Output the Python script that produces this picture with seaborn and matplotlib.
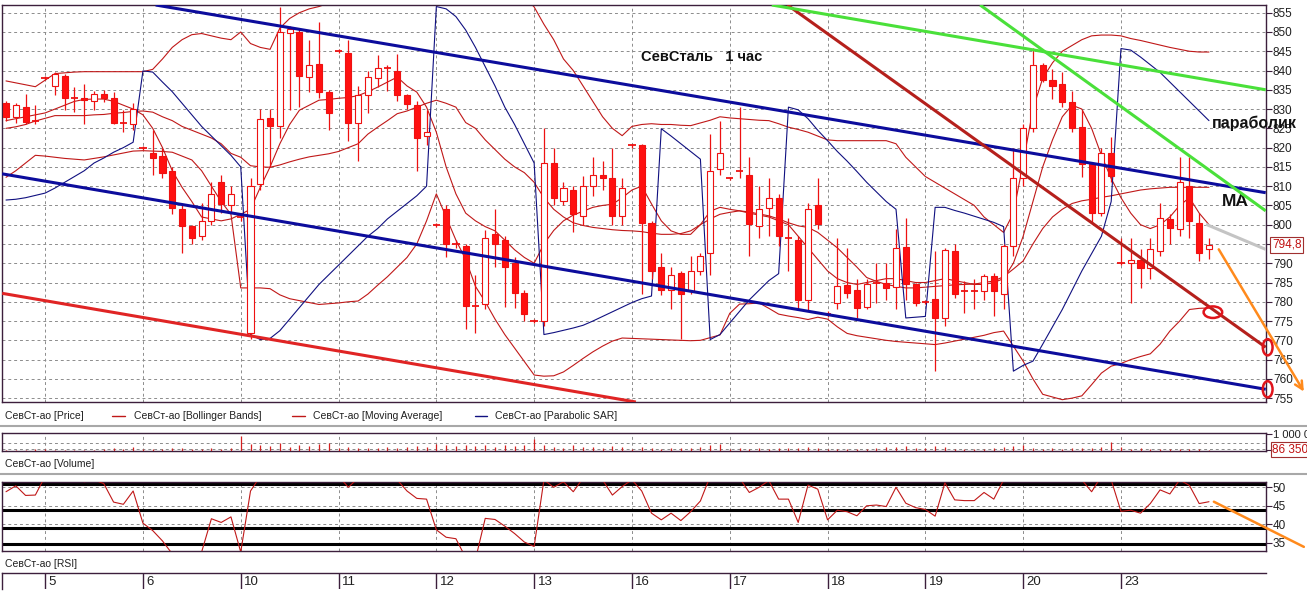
import numpy as np
import seaborn as sns
import matplotlib.pyplot as plt
from matplotlib.lines import Line2D
from matplotlib.patches import Ellipse

# hourly bars: tail of the 4th, then 5th .. 23rd (10 bars a day)
opens = [831.5, 828, 830.5, 827, 838, 836, 838.7, 832.8, 833, 832, 833.8, 833, 826.5, 826,
         820, 818.7, 817.7, 814, 804, 799.6, 797, 801, 811, 805,
         802, 772, 810.6, 827.8, 825.7, 849.7, 850, 838.2, 841.6, 834.4,
         845, 844.5, 826.5, 833.6, 838, 840.6, 840, 833.6, 831, 823,
         800, 804, 795, 794.6, 779, 779.4, 797.6, 796, 790, 782.4,
         775, 775, 816, 806.2, 809, 802.3, 810, 813, 812, 802.3,
         820.6, 820.6, 800.5, 789, 783, 787.5, 782.8, 788, 792.6, 814.5,
         812, 814, 813, 799.6, 804.4, 806.8, 796.6, 796, 780.4, 805,
         776.8, 779.7, 784.3, 783, 778.6, 785, 785, 783.8, 794.2, 784.6,
         780, 780.7, 775.8, 793.2, 782.7, 782.7, 782.7, 786.6, 782, 794.5,
         812, 825, 841.4, 837.6, 836.4, 831.8, 825.3, 815.8, 803, 818.7,
         790, 790, 790.8, 788.8, 793.2, 801.5, 799, 810, 800.5, 793.8]
highs = [832, 831.5, 834, 831, 838.5, 839.5, 839, 835.7, 836.6, 834.8, 835, 834.4, 829.7, 831.5,
         820.5, 824.5, 819.8, 815, 805, 800, 805.7, 811, 813, 810,
         803, 812, 830, 830, 856.5, 851.5, 851, 848, 852.6, 835,
         845.5, 848, 836, 840, 844, 841.4, 844.4, 834, 832, 829.7,
         800.5, 805, 796, 795, 787, 798.5, 804, 797, 791.5, 783,
         775.5, 825, 820, 811, 810, 812.7, 817.5, 816.6, 820, 812,
         821, 821, 801, 792.6, 789, 788, 792, 792.6, 823.6, 827,
         812.5, 830.5, 817.5, 810, 812, 808, 801.8, 797, 805.7, 812,
         777.5, 796.6, 794, 786, 786, 790, 790, 799, 801.8, 785,
         780.5, 793.2, 794, 795, 785.5, 786, 787.3, 787.5, 795, 819.8,
         826, 845.8, 842, 840.4, 839.7, 834.8, 829.7, 816, 820, 822.7,
         796.6, 796.6, 793.6, 796.6, 805.7, 802.8, 817.6, 817.5, 803, 796.6]
lows = [827, 826.3, 826, 826, 837.5, 833.6, 829.7, 829.2, 826, 829.7, 831.8, 826, 824, 824.5,
        819.5, 813, 812, 802.8, 792.6, 795, 796, 800, 803, 803,
        801, 770.3, 809, 815, 822.6, 829.7, 830.5, 834.5, 833, 824.5,
        844.5, 821.8, 816.6, 829, 835.6, 834.8, 832, 830, 814, 820.6,
        799.5, 791.5, 794, 773, 771.8, 778, 789, 778.6, 778.4, 775,
        774.5, 773.7, 805, 805, 798, 800, 807.5, 809, 800, 800,
        820, 782, 786, 781.7, 778, 770.3, 782, 787, 787, 813,
        811.5, 812, 792, 796.6, 797, 794.5, 788, 778, 777.5, 799,
        776, 778, 781, 775.8, 778, 779.7, 780.4, 778, 780.4, 779,
        779.5, 762, 773.7, 781, 777, 778, 780.4, 776.3, 778, 792,
        810, 824, 837, 832.5, 830.5, 824, 812.5, 800.5, 802.3, 811,
        789.5, 779.7, 783.7, 786, 791.8, 795, 797, 796.6, 790.5, 791]
closes = [828, 831, 826.6, 827, 838, 839, 832.8, 832.8, 832.3, 833.8, 833, 826.5, 826.5, 830,
          820, 817.2, 813.3, 804.3, 799.6, 796.6, 801, 808, 805.4, 808,
          802, 810, 827.5, 825.7, 850, 850.8, 838.7, 841.4, 834.4, 829,
          845, 826.5, 833.6, 838.2, 840.6, 840.6, 833.6, 831.2, 822.6, 824,
          800, 795, 795, 779, 779, 796.6, 795, 789, 782.4, 776.8,
          775, 816, 807, 809.6, 802.8, 810, 813, 812, 802.3, 809.6,
          820.6, 800.5, 788, 783, 787, 782, 788, 792, 814, 818.7,
          812, 814, 800.2, 804, 807, 797, 796.6, 780.4, 804, 800.2,
          776.8, 784, 782.3, 778.4, 784.6, 785, 783.5, 794, 784.6, 779.7,
          780, 775.8, 793.5, 782, 782.7, 782.7, 786.6, 782.7, 794.5, 812,
          825, 841.4, 837.6, 836, 831.8, 825, 815.8, 803, 818.7, 812.7,
          790, 790.8, 788.8, 793.6, 801.8, 799.2, 811, 801, 792.6, 794.8]

bb_upper = [837.3, 836.8, 836.3, 835.8, 837.5, 839.2, 839.4, 839.6, 839.7, 839.7, 839.7, 839.7, 839.7, 839.7,
            839.7, 840.3, 843, 846, 848, 849.3, 849.6, 849, 848.4, 848,
            850, 847, 846, 845.5, 851, 853.5, 855, 856, 856.6, 857.5,
            859, 860, 861, 862, 862.5, 863, 863.5, 864, 864, 864,
            864, 864, 864, 863.5, 863, 862, 861, 860, 859.5, 859,
            856.5, 852, 848, 843, 840, 836, 832, 828, 825, 823.1,
            825.5, 826, 826.2, 826, 826, 825.8, 825.7, 826.4, 827.1, 828,
            827.7, 827.5, 827.3, 827.1, 827, 826.2, 825.3, 824.7, 824, 823,
            822, 821.8, 821.8, 821.8, 821.8, 821.8, 821.8, 821, 817.5, 815,
            812.5, 811, 809.5, 808, 806.5, 805, 802, 800, 798, 803,
            816, 830, 838, 842, 845, 846.5, 848, 849, 849.2, 849.2,
            849, 848.3, 847.8, 847.2, 846.6, 846, 845.5, 845, 844.8, 844.8]
bb_middle = [825, 825.4, 826, 826.9, 827.6, 828.3, 828.3, 828.3, 828.3, 828.5, 828.6, 828.9, 829.1, 829.4,
             829.5, 829.2, 828, 827, 825.5, 824.5, 823.5, 822.5, 821, 818.5,
             817.5, 815.3, 815, 814.9, 815.5, 816.3, 817, 817.6, 818, 818.4,
             819, 820, 821, 823.5, 825.3, 827, 828.8, 829.5, 830.5, 831.5,
             832.3, 831.5, 830.5, 826.5, 825, 822, 819.5, 817, 815, 813.5,
             811, 807, 804, 802, 800.5, 799.8, 799.3, 799, 798.7, 798.5,
             798.4, 798.2, 797.8, 797.5, 797.5, 797.7, 798.4, 800, 801.5, 802.7,
             803.2, 803.6, 803.3, 802.8, 802.3, 801.5, 800.5, 799.7, 799.3, 798,
             796, 794, 791.5, 789, 786.3, 785.3, 784.5, 784, 783.6, 783.6,
             783.8, 784, 784.2, 784.4, 784.5, 784.6, 785, 785.4, 786.5, 788.5,
             790.6, 795, 799, 802, 804, 805.5, 806.2, 806.6, 807.1, 807.5,
             808, 808.5, 809, 809.3, 809.5, 809.7, 809.7, 809.7, 809.7, 809.7]
bb_lower = [812.3, 814, 816, 818, 817.8, 817.5, 817.2, 817, 816.8, 817.2, 817.6, 818.1, 818.6, 819.1,
            819.2, 819.1, 819, 818.8, 817.8, 816.8, 814, 810, 806, 802.7,
            783.6, 783.6, 783.6, 783.4, 781.8, 780.8, 780.3, 779.8, 779.3, 779.5,
            779.7, 780, 780.2, 782, 784.3, 786.5, 789, 791.5, 795, 801,
            808, 802, 796, 791, 784, 780, 775.5, 771.5, 768, 764.5,
            761, 760.7, 760.8, 761.8, 763.5, 765.3, 767, 768.5, 769.8, 770.6,
            770.5, 770.4, 770.3, 770.2, 770.1, 770, 769.9, 770, 770.7, 771.4,
            777, 779.4, 779.5, 779.7, 778.3, 776.8, 776.3, 775.9, 775.4, 776,
            775.5, 773.5, 771.8, 771.2, 770.8, 770.4, 770, 769.7, 769.5, 769.3,
            769.1, 768.9, 769.3, 769.8, 770.3, 770.8, 771.3, 772, 772.4, 768.5,
            764.6, 760, 756, 755.3, 754.6, 755, 755.6, 758.5, 761.5, 763.3,
            764, 765, 765.8, 766.5, 769, 772.4, 775, 778, 778.3, 778.4]
moving_avg = [827, 827.5, 828, 828.5, 829, 830, 831, 832, 832.5, 832.6, 832.6, 832, 831, 830,
              828.5, 825, 820, 814, 809.7, 806, 802, 801.5, 801, 801.5,
              802.7, 804, 809.7, 815, 821, 826, 829.7, 831, 832.3, 832.5,
              832.8, 833, 833.5, 834.5, 835.7, 837, 838.3, 836, 834.4, 830.5,
              824, 815, 808, 803, 801, 799.5, 798.4, 796, 793.5, 791.5,
              790, 795, 798.5, 801, 802.5, 803.5, 804.5, 805, 805.3, 807,
              809, 810, 805.4, 801, 798.4, 797.5, 797.5, 800, 803.5, 804.5,
              804, 803.6, 803, 802.5, 802, 801, 800, 797, 794, 791,
              788, 786, 785, 784.5, 785, 785.5, 786, 786, 785.5, 785,
              785, 785.5, 786, 785.5, 785, 784.5, 784.5, 785, 786, 790,
              797, 806, 815, 822, 828, 831, 830, 825, 818, 812,
              807, 803, 800, 799, 800, 802, 805, 807, 803, 800]
parabolic_sar = [806.4, 806.6, 807, 807.6, 808.2, 809.5, 811, 812.5, 814, 816, 817.3, 818.8, 820, 821.4,
                 839.9, 839.6, 837, 834.5, 831.5, 828.5, 825.5, 823, 820.5, 818,
                 815, 771.5, 770.2, 770.5, 772.5, 775.5, 778.5, 781.5, 784.5, 787,
                 789.5, 792, 794.5, 797, 799, 801.5, 803.5, 805.5, 807.5, 810,
                 856.6, 856, 854, 850.5, 846, 841, 836, 830.5, 826, 821,
                 816, 771.5, 772, 772.6, 773.2, 773.9, 775, 776.2, 777.4, 778.6,
                 779.8, 780.8, 781.5, 824.9, 823, 821, 819, 817, 770.2, 771.5,
                 774.5, 777.5, 780.5, 783, 785.5, 787.3, 830.5, 829.8, 827.5, 824.5,
                 821.8, 819, 816.5, 813.8, 811, 808.5, 806, 804, 775.8, 776,
                 776.2, 804.5, 804.5, 803.7, 803, 802.2, 801.4, 800.6, 799.5, 762,
                 763.5, 764.6, 769, 773.5, 778, 783, 788, 792.5, 797, 806,
                 845.7, 845.3, 843.5, 841.5, 839.5, 837, 834.5, 832, 829.5, 827]

# volume in thousands of shares
volume_k = [60, 80, 40, 90, 120, 70, 50, 60, 40, 70, 90, 150, 110, 260,
            100, 90, 120, 180, 150, 110, 130, 170, 140, 190,
            880, 420, 350, 300, 480, 260, 380, 320, 420, 500,
            150, 240, 160, 200, 180, 210, 170, 250, 300, 220,
            420, 330, 280, 370, 300, 350, 260, 330, 290, 380,
            720, 380, 260, 200, 340, 230, 260, 180, 300, 250,
            140, 230, 160, 120, 200, 170, 150, 240, 380, 420,
            130, 180, 120, 170, 110, 150, 190, 160, 230, 200,
            120, 100, 90, 130, 110, 160, 250, 220, 280, 190,
            150, 280, 220, 130, 110, 140, 120, 170, 230, 290,
            380, 200, 130, 150, 120, 160, 190, 150, 220, 520,
            250, 130, 160, 120, 140, 110, 130, 120, 100, 86.35]
rsi = [48.8, 50.4, 47.8, 47.9, 53, 55, 54, 53, 51.5, 52, 51, 46, 45.4, 49,
       40.3, 38.3, 35.5, 32, 30, 31, 32.5, 41.5, 40.5, 42,
       32.5, 49, 53, 55, 60, 60, 57, 57, 55, 53,
       53, 50, 52.5, 54, 55, 54, 52, 49, 47, 46.8,
       38.5, 36.5, 36.1, 31, 30.5, 41.6, 41.3, 39.5, 37.5, 35.2,
       34, 52, 50, 51.5, 48.8, 52.5, 53, 52, 47.9, 50.2,
       52, 49, 43, 41.2, 43, 41, 43.4, 46.3, 53, 54,
       53, 52.5, 48.6, 50, 51.8, 46.8, 46.8, 40.5, 50.6, 49.5,
       41.2, 43.8, 43.4, 42.3, 45, 45.2, 44.8, 50, 45.7, 44.5,
       44, 42.2, 51.2, 46.6, 46.4, 46.4, 48.6, 46.8, 52, 56,
       60, 65, 62, 60, 57, 54, 52, 48.8, 53, 52,
       43.5, 43.8, 43, 45.6, 49.3, 48.2, 52, 50.5, 45.6, 46.1]

day_labels = ['5', '6', '10', '11', '12', '13', '16', '17', '18', '19', '20', '23']
day_first_bar = [4, 14, 24, 34, 44, 54, 64, 74, 84, 94, 104, 114]
price_ticks = list(range(755, 860, 5))
rsi_ticks = [50, 45, 40, 35]
rsi_levels = [50.8, 43.9, 39.1, 34.7]

# lines drawn by hand on the chart, (bar, value) -> (bar, value)
blue_upper = [(15.3, 857.0), (128.8, 808.3)]
blue_lower = [(-0.4, 813.2), (128.8, 757.3)]
red_lower = [(-0.4, 782.2), (64.4, 754.0)]
red_diag = [(79.9, 857.0), (128.8, 768.2)]
green_flat = [(78.3, 857.0), (128.8, 835.0)]
green_steep = [(99.6, 857.0), (128.8, 803.6)]
grey_ma = [(122.7, 800.1), (128.8, 793.6)]
orange_price = [(124.0, 793.6), (132.7, 756.7)]
orange_rsi = [(123.5, 46.1), (132.7, 33.9)]
circle_marks = [(123.4, 777.3), (129.0, 768.2), (129.0, 757.3)]

W, H = 1307, 591
FRAME = '#3c1f3c'
GRID = '#8c8c8c'
CANDLE = '#ee1111'
IND = '#c01818'
SANS = ['Liberation Sans', 'DejaVu Sans']


def box(x0, y0, x1, y1):
    return [x0 / W, 1 - y1 / H, (x1 - x0) / W, (y1 - y0) / H]


def frame(ax, xlim):
    ax.set_xlim(*xlim)
    ax.set_xticks([])
    ax.set_xlabel('')
    ax.set_ylabel('')
    ax.set_facecolor('white')
    for s in ax.spines.values():
        s.set_color(FRAME)
        s.set_linewidth(1.0)
        s.set_visible(True)
    ax.yaxis.tick_right()
    ax.tick_params(axis='y', right=True, left=False, length=4, width=0.8,
                   color=FRAME, labelsize=8.5, pad=1, labelcolor='#202020')


def day_grid(ax):
    for d in day_first_bar:
        ax.axvline(d, color=GRID, lw=0.7, ls=(0, (3, 3)), zorder=0)


def main():
    sns.set_theme(style='white')
    plt.rcParams['font.family'] = SANS

    bars = np.arange(len(closes))
    o, h, l, c = map(np.array, (opens, highs, lows, closes))
    xlim = (-0.41, 128.83)

    fig = plt.figure(figsize=(W / 100, H / 100), dpi=100)
    ax = fig.add_axes(box(2, 5, 1266, 402))
    ax_v = fig.add_axes(box(2, 433, 1266, 451))
    ax_r = fig.add_axes(box(2, 482, 1266, 551))
    ax_d = fig.add_axes(box(2, 573, 1266, 589))

    # ---- price panel ----
    for y in price_ticks:
        ax.axhline(y, color=GRID, lw=0.7, ls=(0, (3, 3)), zorder=0)
    day_grid(ax)

    for col in (bb_upper, bb_middle, bb_lower, moving_avg):
        sns.lineplot(x=bars, y=col, ax=ax, color=IND, lw=0.8, zorder=2)
    sns.lineplot(x=bars, y=parabolic_sar, ax=ax, color='#101080', lw=0.8, zorder=2)

    ax.vlines(bars, l, h, color=CANDLE, lw=0.9, zorder=3)
    doji = np.abs(c - o) < 0.4
    bear = (c < o) & ~doji
    bull = (c >= o) & ~doji
    ax.bar(bars[bear], (o - c)[bear], bottom=c[bear], width=0.62,
           color='#ff1010', edgecolor=CANDLE, lw=0.8, zorder=4)
    ax.bar(bars[bull], (c - o)[bull], bottom=o[bull], width=0.62,
           color='white', edgecolor=CANDLE, lw=0.8, zorder=4)
    ax.hlines(c[doji], bars[doji] - 0.38, bars[doji] + 0.38, color=CANDLE, lw=1.3, zorder=4)

    for pts, colr in [(red_lower, '#e02424'), (blue_upper, '#0c0c9c'),
                      (blue_lower, '#0c0c9c'), (red_diag, '#b5201c'),
                      (green_flat, '#4ae03a'), (green_steep, '#4ae03a'),
                      (grey_ma, '#c4c4c4')]:
        (x0, y0), (x1, y1) = pts
        ax.plot([x0, x1], [y0, y1], color=colr, lw=2.2, zorder=5, solid_capstyle='butt')

    (x0, y0), (x1, y1) = orange_price
    ax.annotate('', xy=(x1, y1), xytext=(x0, y0), annotation_clip=False, zorder=7,
                arrowprops=dict(arrowstyle='->', color='#ff8a1c', lw=1.8,
                                mutation_scale=14, shrinkA=0, shrinkB=0))
    for i, (cx, cy) in enumerate(circle_marks):
        wdt, hgt = (1.9, 3.0) if i == 0 else (1.0, 4.2)
        ax.add_patch(Ellipse((cx, cy), wdt, hgt, fill=False, ec='#e0141c', lw=1.8,
                             clip_on=False, zorder=8))

    ax.set_ylim(754, 857)
    frame(ax, xlim)
    ax.set_yticks(price_ticks)
    # 795 sits under the last-price tag
    ax.set_yticklabels(['' if t == 795 else str(t) for t in price_ticks])

    ax.text(64.9, 843.5, 'СевСталь   1 час', family=SANS, fontweight='bold',
            fontsize=10.5, va='center', ha='left', color='#111111')
    ax.text(123.3, 826.3, 'параболик', family=SANS, fontweight='bold',
            fontsize=11.5, va='center', ha='left', color='#111111', zorder=9)
    ax.text(124.3, 806.0, 'MA', family=SANS, fontweight='bold',
            fontsize=12.5, va='center', ha='left', color='#111111')
    ax.text(129.45, closes[-1], f'{closes[-1]:.1f}'.replace('.', ','), color='#c01010',
            fontsize=8.5, va='center', ha='left',
            bbox=dict(boxstyle='square,pad=0.15', fc='white', ec='#a03030', lw=0.8))

    # ---- volume panel ----
    for y in (500, 100):
        ax_v.axhline(y, color=GRID, lw=0.7, ls=(0, (3, 3)), zorder=0)
    day_grid(ax_v)
    ax_v.vlines(bars, 0, volume_k, color='#d42020', lw=0.9, zorder=3)
    ax_v.set_ylim(0, 1060)
    frame(ax_v, xlim)
    ax_v.set_yticks([1000, volume_k[-1]])
    ax_v.set_yticklabels(['1 000 0', ''])
    ax_v.tick_params(axis='y', labelsize=8)
    ax_v.text(129.45, volume_k[-1], '86 350', color='#c01010', fontsize=8.5, va='center',
              ha='left', bbox=dict(boxstyle='square,pad=0.12', fc='white', ec='#a03030', lw=0.8))

    # ---- RSI panel ----
    for y in rsi_ticks:
        ax_r.axhline(y, color=GRID, lw=0.7, ls=(0, (3, 3)), zorder=0)
    day_grid(ax_r)
    for y in rsi_levels:
        ax_r.axhline(y, color='black', lw=2.2, zorder=2)
    sns.lineplot(x=bars, y=rsi, ax=ax_r, color=IND, lw=0.8, zorder=3)
    (x0, y0), (x1, y1) = orange_rsi
    ax_r.plot([x0, x1], [y0, y1], color='#ff8a1c', lw=1.8, clip_on=False, zorder=6)
    ax_r.set_ylim(32.78, 51.43)
    frame(ax_r, xlim)
    ax_r.set_yticks(rsi_ticks)
    ax_r.set_yticklabels([str(t) for t in rsi_ticks])

    # ---- date strip ----
    ax_d.set_ylim(0, 1)
    frame(ax_d, xlim)
    ax_d.set_yticks([])
    ax_d.spines['right'].set_visible(False)
    ax_d.spines['bottom'].set_visible(False)
    for d, lab in zip(day_first_bar, day_labels):
        ax_d.axvline(d, color=FRAME, lw=1.0)
        ax_d.text(d + 0.35, 0.45, lab, fontsize=9.5, va='center', ha='left', color='#202020')

    # ---- captions and separators ----
    def ftext(px, py, s):
        fig.text(px / W, 1 - py / H, s, va='center', ha='left', fontsize=7.5,
                 color='#202020')

    def fline(x0, x1, py, colr, lw):
        fig.add_artist(Line2D([x0 / W, x1 / W], [1 - py / H, 1 - py / H],
                              transform=fig.transFigure, color=colr, lw=lw))

    ftext(5, 416, 'СевСт-ао [Price]')
    fline(112, 125, 416, IND, 1.0)
    ftext(134, 416, 'СевСт-ао [Bollinger Bands]')
    fline(292, 305, 416, IND, 1.0)
    ftext(313, 416, 'СевСт-ао [Moving Average]')
    fline(475, 487, 416, '#101080', 1.0)
    ftext(495, 416, 'СевСт-ао [Parabolic SAR]')
    ftext(5, 464, 'СевСт-ао [Volume]')
    ftext(5, 564, 'СевСт-ао [RSI]')
    fline(0, W, 426, '#a8a8a8', 1.5)
    fline(0, W, 474, '#a8a8a8', 1.5)

    fig.savefig('out.png', dpi=100)


if __name__ == '__main__':
    main()
